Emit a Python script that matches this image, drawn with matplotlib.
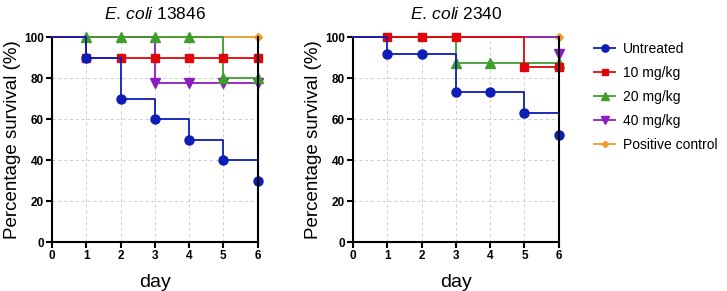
import numpy as np
import matplotlib
matplotlib.use("Agg")
import matplotlib.pyplot as plt

plt.rcParams.update({"font.family": ["Liberation Sans", "DejaVu Sans"],
                     "mathtext.fontset": "custom",
                     "mathtext.rm": "Liberation Sans",
                     "mathtext.it": "Liberation Sans:italic"})

days = [0, 1, 2, 3, 4, 5, 6]
groups = ["Untreated", "10 mg/kg", "20 mg/kg", "40 mg/kg", "Positive control"]
titles = ["13846", "2340"]

# percent survival per day, strain 13846
s13846_untreated = [100, 90, 70, 60, 50, 40, 30]
s13846_10 = [100, 90, 90, 90, 90, 90, 90]
s13846_20 = [100, 100, 100, 100, 100, 80, 80]
s13846_40 = [100, 100, 100, 77.8, 77.8, 77.8, 77.8]
s13846_pos = [100, 100, 100, 100, 100, 100, 100]

# percent survival per day, strain 2340
s2340_untreated = [100, 91.7, 91.7, 73.3, 73.3, 62.9, 52.4]
s2340_10 = [100, 100, 100, 100, 100, 85.7, 85.7]
s2340_20 = [100, 100, 100, 87.5, 87.5, 87.5, 87.5]
s2340_40 = [100, 100, 100, 100, 100, 100, 91.7]
s2340_pos = [100, 100, 100, 100, 100, 100, 100]

# days on which a symbol is shown for each group
mark13846 = [[1, 2, 3, 4, 5, 6], [1, 2, 3, 4, 5, 6], [1, 2, 3, 4, 5, 6],
             [3, 4, 5, 6], [6]]
mark2340 = [[1, 2, 3, 4, 5, 6], [1, 2, 3, 5, 6], [3, 4, 6], [6], [6]]

data = [
    [s13846_untreated, s13846_10, s13846_20, s13846_40, s13846_pos],
    [s2340_untreated, s2340_10, s2340_20, s2340_40, s2340_pos],
]
marks = [mark13846, mark2340]

colors = ["#0d1db5", "#e0060b", "#3f9e2c", "#8a1ec2", "#f09a2a"]
markers = ["o", "s", "^", "v", "D"]
msizes = [6.5, 6, 6.5, 6.5, 4]
zorders = [7, 6, 5, 4, 3]

fig = plt.figure(figsize=(7.27, 2.91), dpi=100)
axes = [fig.add_axes([0.0715, 0.168, 0.283, 0.704]),
        fig.add_axes([0.4856, 0.168, 0.283, 0.704])]

for ax, series, mk, strain in zip(axes, data, marks, titles):
    for y, md, name, c, m, ms, z in zip(series, mk, groups, colors, markers,
                                         msizes, zorders):
        ax.step(days, y, where="post", color=c, lw=1.3, zorder=z, clip_on=False)
        ax.plot(md, [y[d] for d in md], ls="none", marker=m, ms=ms, color=c,
                zorder=z, clip_on=False, label=name)
    ax.axvline(6, color="black", lw=1.5, zorder=10, clip_on=False)
    ax.set_xlim(0, 6)
    ax.set_ylim(0, 100)
    ax.set_xticks(days)
    ax.set_yticks([0, 20, 40, 60, 80, 100])
    ax.grid(True, ls=(0, (3, 3)), color="#cccccc", lw=0.7)
    ax.set_axisbelow(True)
    for side in ["top", "right"]:
        ax.spines[side].set_visible(False)
    for side in ["left", "bottom"]:
        ax.spines[side].set_linewidth(1.5)
    ax.tick_params(width=1.5, length=4, labelsize=8.5, pad=2)
    for lab in ax.get_xticklabels() + ax.get_yticklabels():
        lab.set_fontweight("bold")
    ax.set_xlabel("day", fontsize=14, labelpad=8)
    ax.set_ylabel("Percentage survival (%)", fontsize=13.5, labelpad=2)
    ax.set_title(r"$\it{E.\,coli}$ " + strain, fontsize=12.5, pad=13)

handles = [plt.Line2D([], [], color=c, marker=m, ms=ms * 0.8, lw=1.3)
           for c, m, ms in zip(colors, markers, msizes)]
fig.legend(handles, groups, loc="upper left", bbox_to_anchor=(0.8, 0.9),
           frameon=False, fontsize=10, handlelength=1.5, handletextpad=0.6,
           labelspacing=0.72)

plt.savefig("out.png", dpi=100)
